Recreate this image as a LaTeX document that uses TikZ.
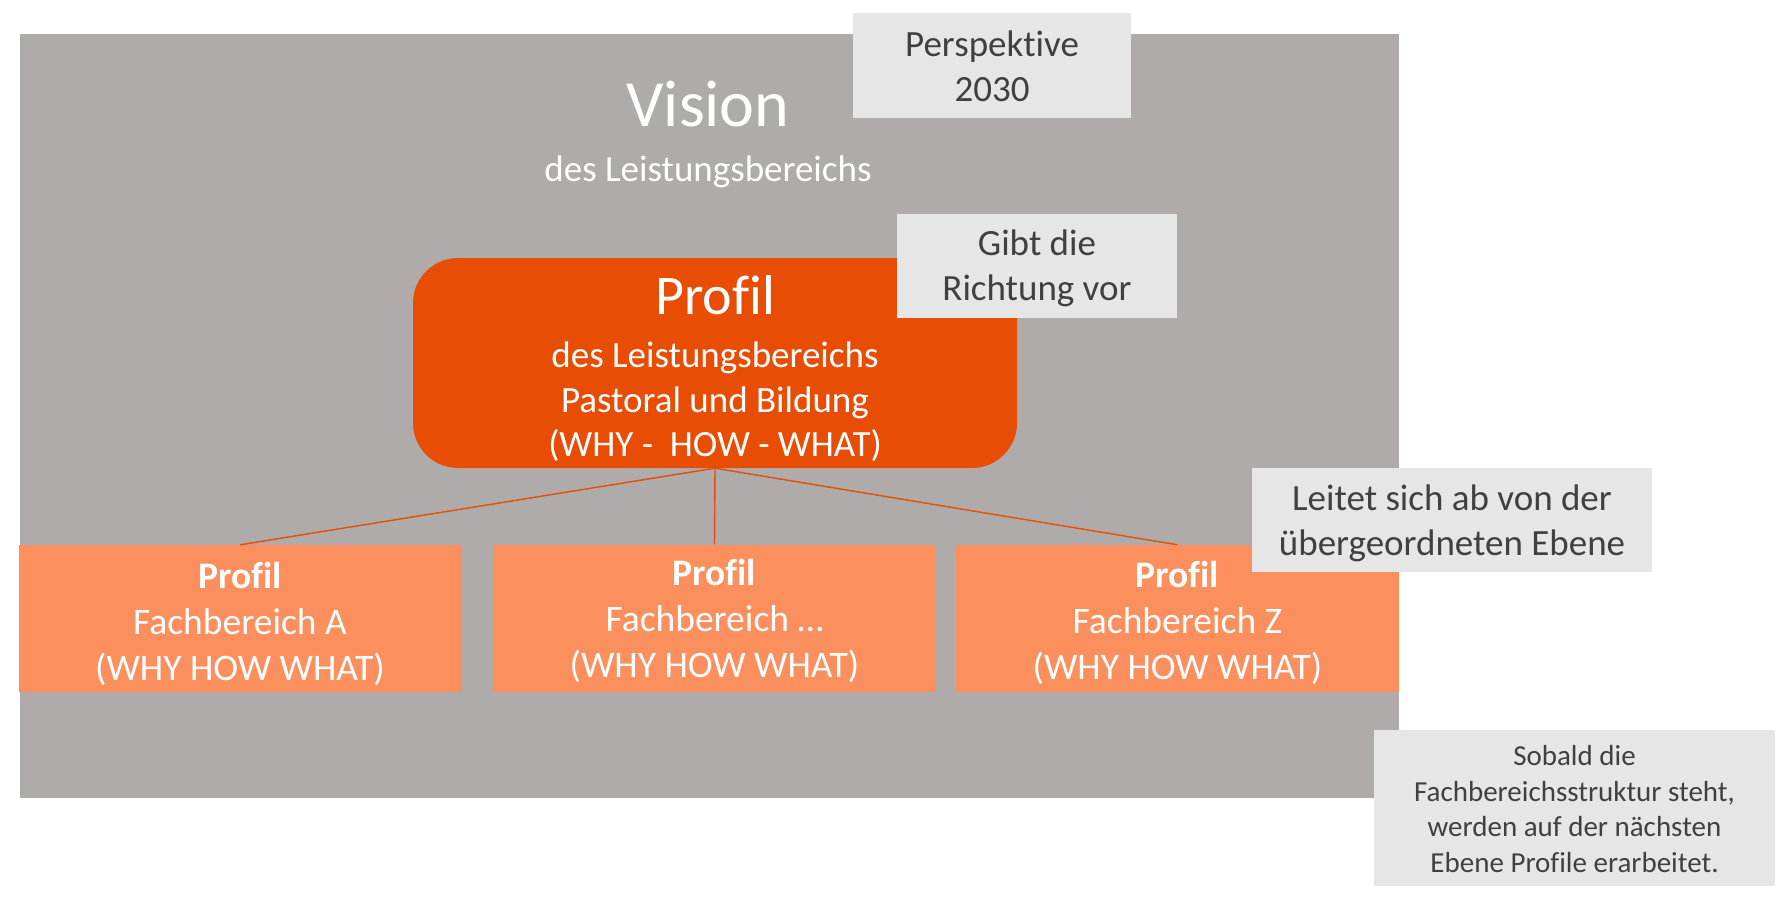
\documentclass[tikz,border=0pt]{standalone}
\usepackage{fontspec}
\setmainfont[Ligatures=NoCommon]{Carlito}
\definecolor{bggray}{HTML}{AFABAB}
\definecolor{darkor}{HTML}{E84D05}
\definecolor{lightor}{HTML}{FB8F5E}
\definecolor{notegray}{HTML}{E7E6E6}
\definecolor{notetext}{HTML}{404040}
\tikzset{
  bgrect/.style={rectangle, fill=bggray, inner sep=0, minimum width=1379, minimum height=764},
  whitetext/.style={text=white, inner sep=0, anchor=base},
  profilbox/.style={rectangle, rounded corners=45, fill=darkor, inner sep=0, minimum width=604, minimum height=210},
  note/.style={rectangle, fill=notegray, inner sep=0},
  notetxt/.style={text=notetext, align=center, inner sep=0, font=\fontsize{37}{45}\selectfont},
  fbbox/.style={rectangle, fill=lightor, inner sep=0, minimum width=443, minimum height=147},
  fbtxt/.style={text=white, align=center, inner sep=0, font=\fontsize{37.5}{46}\selectfont},
  conn/.style={draw=darkor, line width=1.4pt}
}
\begin{document}
\begin{tikzpicture}[x=1pt,y=-1pt]
\useasboundingbox[fill=white] (0,0) rectangle (1788,920);
\node[bgrect] (bg) at (709.5,416) {};
\node[whitetext, font=\fontsize{66}{79}\selectfont] (vision) at (708,127) {Vision};
\node[whitetext, font=\fontsize{37}{45}\selectfont] (visionsub) at (708,181.5) {des Leistungsbereichs};
\node[profilbox] (profil) at (715,363) {};
\node[whitetext, font=\fontsize{56}{67}\selectfont] (p1) at (715,314) {Profil};
\node[whitetext, font=\fontsize{37}{45}\selectfont] (p2) at (715,367) {des Leistungsbereichs};
\node[whitetext, font=\fontsize{37}{45}\selectfont] (p3) at (715,412) {Pastoral und Bildung};
\node[whitetext, font=\fontsize{37}{45}\selectfont] (p4) at (715,456) {(WHY -\ \ HOW - WHAT)};
\node[note, minimum width=278, minimum height=105] (persp) at (992,66) {};
\node[notetxt] (persptxt) at (992,66) {Perspektive\\2030};
\node[note, minimum width=280, minimum height=104] (gibt) at (1037,266) {};
\node[notetxt] (gibttxt) at (1037,268.5) {Gibt die\\Richtung vor};
\node[fbbox] (fbA) at (240,618.5) {};
\node[fbtxt] (fbAtxt) at (240,624) {\textbf{Profil}\\Fachbereich A\\(WHY HOW WHAT)};
\node[fbbox] (fbM) at (714.5,618) {};
\node[fbtxt] (fbMtxt) at (714.5,621) {\textbf{Profil}\\Fachbereich \dots\\(WHY HOW WHAT)};
\node[fbbox] (fbZ) at (1177.5,618.5) {};
\node[fbtxt] (fbZtxt) at (1177.5,622.5) {\textbf{Profil}\\Fachbereich Z\\(WHY HOW WHAT)};
\draw[conn] (profil.south) -- (fbA.north);
\draw[conn] (profil.south) -- (fbM.north);
\draw[conn] (profil.south) -- (fbZ.north);
\node[note, minimum width=400, minimum height=104] (leitet) at (1452,520) {};
\node[notetxt] (leitettxt) at (1452,523.5) {Leitet sich ab von der\\übergeordneten Ebene};
\node[note, minimum width=401, minimum height=156] (sobald) at (1574.5,808) {};
\node[notetxt, font=\fontsize{29}{35.5}\selectfont] (sobaldtxt) at (1574.5,809) {Sobald die\\Fachbereichsstruktur steht,\\werden auf der nächsten\\Ebene Profile erarbeitet.};
\end{tikzpicture}
\end{document}
